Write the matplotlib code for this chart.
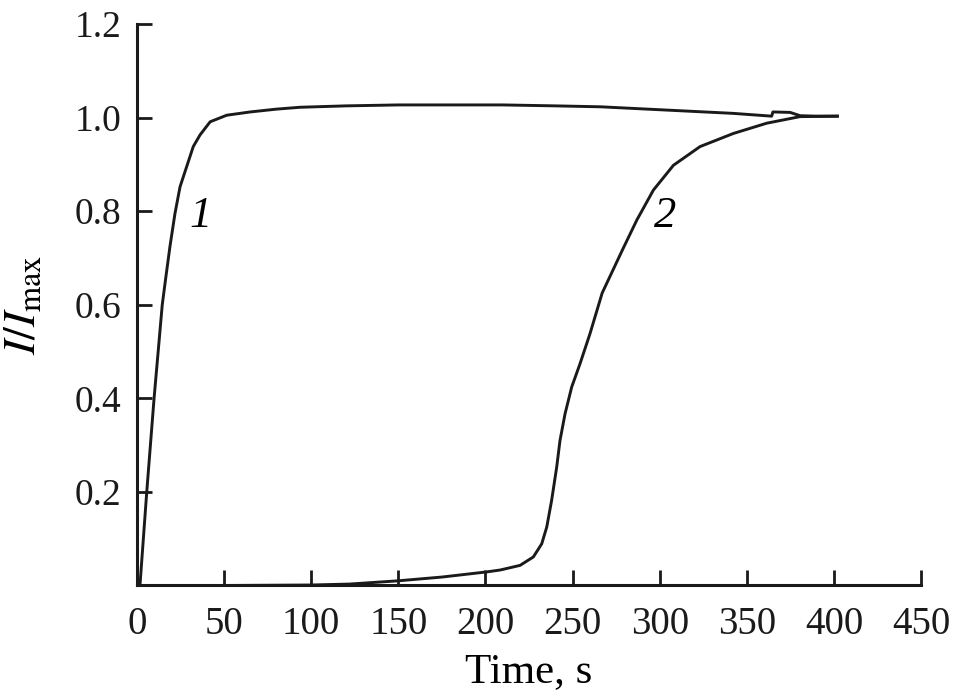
import matplotlib
matplotlib.use("Agg")
import matplotlib.pyplot as plt
import numpy as np

# --------------------------------------------------
# Data
# --------------------------------------------------
curve1_t = [0, 1.7, 5.6, 9.8, 14.5, 16.6, 18.9, 21.8, 24.7, 28.5, 32.3, 36.2,
            42, 51.5, 65, 80, 93.6, 120, 150, 180, 210, 240, 266, 304, 342,
            364.3, 365, 374.9, 380.6, 390, 402]
curve1_y = [0, 0.0, 0.2, 0.4, 0.6, 0.66, 0.724, 0.795, 0.852, 0.895, 0.938,
            0.963, 0.991, 1.005, 1.012, 1.018, 1.022, 1.025, 1.027, 1.027, 1.027,
            1.025, 1.023, 1.016, 1.009, 1.003, 1.012, 1.011, 1.004, 1.003, 1.003]

curve2_t = [0, 50, 100, 122, 150, 175, 200.7, 208.4, 219.9, 227.5, 232.3, 235.2,
            238, 240.9, 242.8, 245.7, 249.5, 254.3, 260, 267, 279, 286.9, 296.4,
            307.9, 323.2, 342.3, 361.5, 380.6, 402]
curve2_y = [0, 0.0, 0.001, 0.003, 0.01, 0.018, 0.029, 0.033, 0.043, 0.061, 0.089,
            0.125, 0.182, 0.253, 0.31, 0.367, 0.424, 0.474, 0.538, 0.625, 0.72,
            0.781, 0.845, 0.898, 0.938, 0.966, 0.988, 1.002, 1.003]

x_ticks = [0, 50, 100, 150, 200, 250, 300, 350, 400, 450]
y_ticks = [0.2, 0.4, 0.6, 0.8, 1.0, 1.2]

# --------------------------------------------------
# Plot
# --------------------------------------------------
plt.rcParams["font.family"] = ["Liberation Serif", "DejaVu Serif"]
plt.rcParams["mathtext.fontset"] = "stix"

ink = "#1a1a1a"

fig = plt.figure(figsize=(9.54, 6.97), dpi=100)
ax = fig.add_axes([0.1436, 0.16, 0.8218, 0.8056])

ax.plot(curve1_t, curve1_y, color=ink, lw=2.1, solid_joinstyle="round")
ax.plot(curve2_t, curve2_y, color=ink, lw=2.1, solid_joinstyle="round")

ax.text(36.2, 0.789, "1", fontsize=32, style="italic", ha="center", va="center")
ax.text(303, 0.789, "2", fontsize=32, style="italic", ha="center", va="center")

ax.set_xlim(0, 450)
ax.set_ylim(0, 1.2)
ax.set_xticks(x_ticks)
ax.set_xticklabels([str(v) for v in x_ticks])
ax.set_yticks(y_ticks)
ax.set_yticklabels([f"{v:.1f}" for v in y_ticks])

for side in ["top", "right"]:
    ax.spines[side].set_visible(False)
for side in ["left", "bottom"]:
    ax.spines[side].set_linewidth(2.2)
    ax.spines[side].set_color(ink)

ax.tick_params(axis="both", direction="in", length=11, width=2, colors=ink)
ax.tick_params(axis="x", pad=15, labelsize=28)
ax.tick_params(axis="y", pad=11, labelsize=27)

ax.set_xlabel("Time, s", fontsize=31)
ax.xaxis.set_label_coords(0.5, -0.12)
ax.set_ylabel(r"$I/I_{\mathrm{max}}$", fontsize=33)
ax.yaxis.set_label_coords(-0.117, 0.5)

fig.savefig("out.png", dpi=100)
